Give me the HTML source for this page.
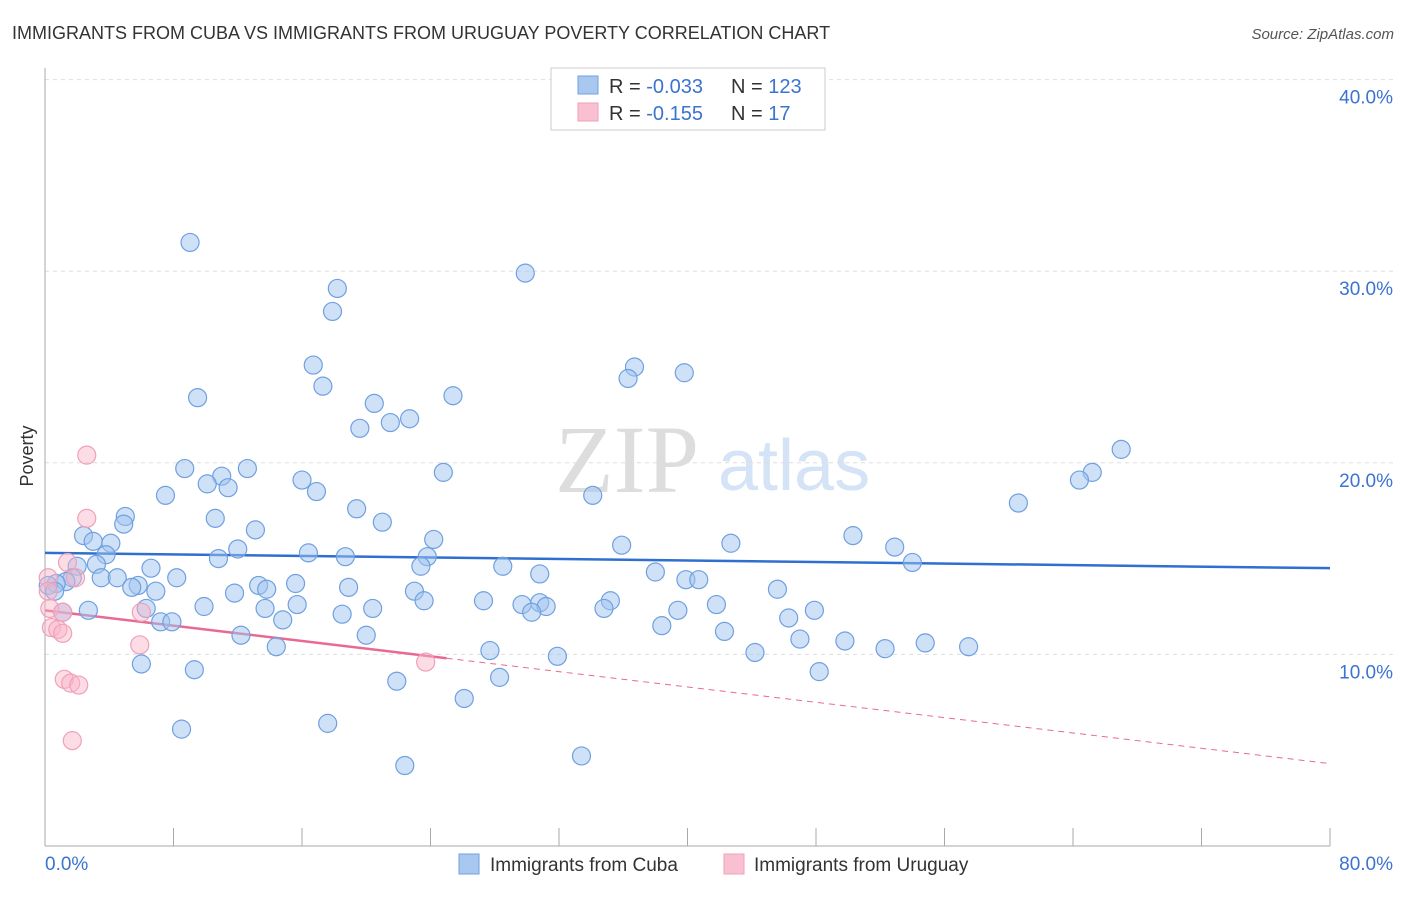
<!DOCTYPE html>
<html><head><meta charset="utf-8"><style>
body{margin:0;background:#fff;font-family:"Liberation Sans",sans-serif}
</style></head><body>
<svg width="1406" height="892" xmlns="http://www.w3.org/2000/svg" font-family="Liberation Sans, sans-serif">
<text x="12" y="39" font-size="18" fill="#333">IMMIGRANTS FROM CUBA VS IMMIGRANTS FROM URUGUAY POVERTY CORRELATION CHART</text>
<text x="1394" y="39" font-size="15" fill="#555" font-style="italic" text-anchor="end">Source: ZipAtlas.com</text>
<text x="555" y="492" font-size="96" fill="#ddd" font-family="Liberation Serif, serif">ZIP</text>
<text x="718" y="490" font-size="72" fill="#d4e3f5">atlas</text>
<text transform="translate(33,456) rotate(-90)" font-size="18" fill="#333" text-anchor="middle">Poverty</text>
<g id="grid"></g><g id="axes"></g><g id="trends"></g><g id="pts"></g>
<g>
<rect x="551" y="68" width="274" height="62" fill="#fff" stroke="#ccc"/>
<rect x="578" y="76" width="20" height="18" fill="#a8c8f0" stroke="#6fa0e0"/>
<rect x="578" y="103" width="20" height="18" fill="#f8c0d0" stroke="#f0a0b8"/>
<text x="609" y="93" font-size="20" fill="#333">R = <tspan fill="#3b73d0">-0.033</tspan></text>
<text x="731" y="93" font-size="20" fill="#333">N = <tspan fill="#3b73d0">123</tspan></text>
<text x="609" y="120" font-size="20" fill="#333">R = <tspan fill="#3b73d0"> -0.155</tspan></text>
<text x="731" y="120" font-size="20" fill="#333">N = <tspan fill="#3b73d0">  17</tspan></text>
</g>
<g>
<rect x="459" y="854" width="20" height="20" fill="#a8c8f0" stroke="#6fa0e0"/>
<text x="490" y="871" font-size="19" fill="#333">Immigrants from Cuba</text>
<rect x="724" y="854" width="20" height="20" fill="#f8c0d0" stroke="#f0a0b8"/>
<text x="754" y="871" font-size="19" fill="#333">Immigrants from Uruguay</text>
</g>
</svg>
<script>
const xTicks=[0,8,16,24,32,40,48,56,64,72,80];
const yTicks=[10,20,30,40];
const yTickLabels=["10.0%","20.0%","30.0%","40.0%"];
const cubaX=[9.03,29.9,18.2,17.9,16.7,17.3,9.5,36.7,36.3,39.8,25.4,20.5,22.7,21.5,19.6,67.0,65.2,64.4,60.6,8.7,12.6,11.0,10.1,11.4,24.8,16.0,16.9,7.5,34.1,19.4,21.0,10.6,5.0,4.9,13.1,50.3,2.4,3.0,4.1,24.2,42.7,35.9,52.9,12.0,3.8,16.4,18.7,23.8,10.8,54.0,3.2,2.0,6.6,23.4,28.5,30.8,38.0,8.2,3.5,4.5,39.9,40.7,1.7,1.3,0.7,0.2,5.8,5.4,13.3,13.8,15.6,18.9,6.9,11.8,23.0,45.6,0.6,23.6,35.2,27.3,29.7,30.8,31.2,9.9,13.7,15.7,41.8,34.8,6.3,2.7,20.4,30.3,39.4,47.9,18.5,46.3,1.1,14.8,7.2,7.9,38.4,42.3,12.2,20.0,47.0,49.8,54.8,57.5,14.4,52.3,27.7,44.2,31.9,6.0,9.3,48.2,28.3,21.9,26.1,17.6,8.5,33.4,22.4];
const cubaY=[31.5,29.9,29.1,27.9,25.1,24.0,23.4,25.0,24.4,24.7,23.5,23.1,22.3,22.1,21.8,20.7,19.5,19.1,17.9,19.7,19.7,19.3,18.9,18.7,19.5,19.1,18.5,18.3,18.3,17.6,16.9,17.1,17.2,16.8,16.5,16.2,16.2,15.9,15.8,16.0,15.8,15.7,15.6,15.5,15.2,15.3,15.1,15.1,15.0,14.8,14.7,14.6,14.5,14.6,14.6,14.2,14.3,14.0,14.0,14.0,13.9,13.9,14.0,13.8,13.7,13.6,13.6,13.5,13.6,13.4,13.7,13.5,13.3,13.2,13.3,13.4,13.3,12.8,12.8,12.8,12.6,12.7,12.5,12.5,12.4,12.6,12.6,12.4,12.4,12.3,12.4,12.2,12.3,12.3,12.1,11.9,12.2,11.8,11.7,11.7,11.5,11.2,11.0,11.0,10.8,10.7,10.6,10.4,10.4,10.3,10.2,10.1,9.9,9.5,9.2,9.1,8.8,8.6,7.7,6.4,6.1,4.7,4.2];
const urugX=[2.6,2.6,1.4,0.2,1.9,0.2,0.3,1.1,0.4,0.8,1.1,5.9,23.7,1.2,1.6,2.1,1.7,6.0];
const urugY=[20.4,17.1,14.8,14.0,14.0,13.3,12.4,12.2,11.4,11.3,11.1,10.5,9.6,8.7,8.5,8.4,5.5,12.2];
const cubaTrend=[15.3,14.5];
const urugTrend=[12.3,4.3];
const urugSolidEnd=25;
const NS="http://www.w3.org/2000/svg";
const sx=v=>45+v/80*1285, sy=v=>846-v*19.16;
function mk(t,a,p){const e=document.createElementNS(NS,t);for(const k in a)e.setAttribute(k,a[k]);document.getElementById(p).appendChild(e);return e;}
yTicks.forEach((t,i)=>{
 const l=mk('line',{x1:45,x2:1394,y1:sy(t),y2:sy(t),stroke:'#ddd','stroke-dasharray':'4,4'},'grid');
 
 
 const tx=mk('text',{x:1393,y:sy(t)+24,'font-size':19,fill:'#3b73d0','text-anchor':'end'},'axes');
 tx.textContent=yTickLabels[i];
 
 
});
const ax=mk('line',{x1:45,x2:45,y1:68,y2:846,stroke:'#aaa'},'axes');


const bx=mk('line',{x1:45,x2:1330,y1:846,y2:846,stroke:'#aaa'},'axes');


xTicks.forEach(t=>{const l=mk('line',{x1:sx(t),x2:sx(t),y1:828,y2:846,stroke:'#aaa'},'axes');
 
 });
[[0,"0.0%",'start',45],[80,"80.0%",'end',1393]].forEach(([v,s,a,x])=>{const t=mk('text',{x:x,y:870,'font-size':19,fill:'#3b73d0','text-anchor':a},'axes');t.textContent=s;
 
 });
cubaX.forEach((x,i)=>{const c=mk('circle',{cx:sx(x),cy:sy(cubaY[i]),r:9,fill:'rgba(160,196,240,0.5)',stroke:'#6fa0e0','stroke-width':1.2},'pts');
 
 });
urugX.forEach((x,i)=>{const c=mk('circle',{cx:sx(x),cy:sy(urugY[i]),r:9,fill:'rgba(248,180,200,0.45)',stroke:'#f0a0b8','stroke-width':1.2},'pts');
 
 });
const t1=mk('line',{x1:sx(0),x2:sx(80),y1:sy(cubaTrend[0]),y2:sy(cubaTrend[1]),stroke:'#2f6fd0','stroke-width':2.5},'trends');


const yEnd=urugTrend[0]+(urugTrend[1]-urugTrend[0])*urugSolidEnd/80;
const t2=mk('line',{x1:sx(0),x2:sx(urugSolidEnd),y1:sy(urugTrend[0]),y2:sy(yEnd),stroke:'#e86a92','stroke-width':2.5},'trends');


const t3=mk('line',{x1:sx(urugSolidEnd),x2:sx(80),y1:sy(yEnd),y2:sy(urugTrend[1]),stroke:'#e86a92','stroke-width':1,'stroke-dasharray':'6,5'},'trends');


</script>
</body></html>
